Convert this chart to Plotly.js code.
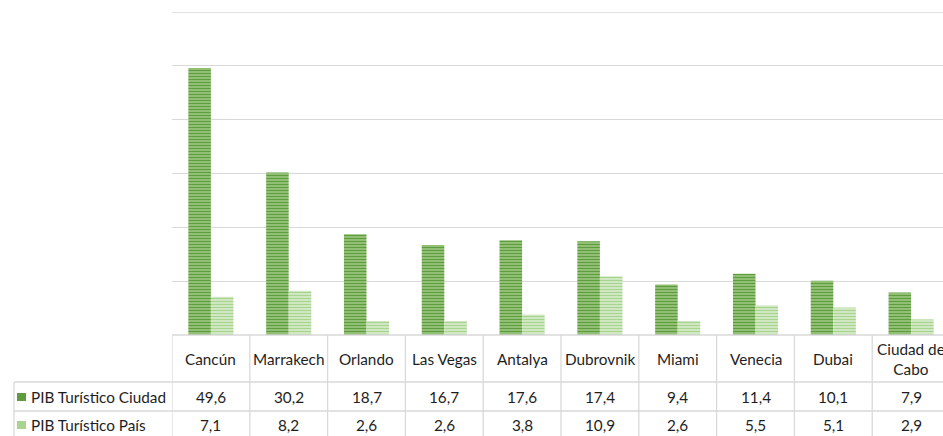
<!DOCTYPE html>
<html><head><meta charset="utf-8">
<script src="https://cdn.plot.ly/plotly-3.0.1.min.js"></script>
<style>html,body{margin:0;padding:0;background:#fff}#chart{width:943px;height:436px}</style>
</head><body><div id="chart"></div>
<script>
const categories = ['Cancún','Marrakech','Orlando','Las Vegas','Antalya','Dubrovnik','Miami','Venecia','Dubai','Ciudad de Cabo'];
const seriesNames = ['PIB Turístico Ciudad','PIB Turístico País'];
const ciudad = [49.6,30.2,18.7,16.7,17.6,17.4,9.4,11.4,10.1,7.9];
const pais = [7.1,8.2,2.6,2.6,3.8,10.9,2.6,5.5,5.1,2.9];

const W = 943, H = 436, L = 172, T = 12, B = 101;
const plotW = W - L, plotH = H - T - B;
const colW = 77.8;
const xMax = -0.5 + plotW / colW;
const py = px => (H - B - px) / plotH;   // pixel -> paper y
const pxx = px => (px - L) / plotW;      // pixel -> paper x
const fmt = v => v.toFixed(1).replace('.', ',');
const FONT = 'Lato, "Open Sans", sans-serif';
const FS = 15.3;
const TXT = '#1e1e1e';
const grid = '#d9d9d9';

const traces = [
  {type:'bar', x:categories, y:ciudad, name:seriesNames[0],
   marker:{color:'#a9d18e', line:{width:0},
     pattern:{shape:'-', fgcolor:'#5e9c3f', bgcolor:'#a9d18e', size:3, solidity:0.55}}},
  {type:'bar', x:categories, y:pais, name:seriesNames[1],
   marker:{color:'#d6ebc9', line:{width:0},
     pattern:{shape:'-', fgcolor:'#a8d490', bgcolor:'#dcefd1', size:3, solidity:0.5}}}
];

const shapes = [], annotations = [];
const line = (x0,y0,x1,y1) => shapes.push({type:'line', xref:'paper', yref:'paper', x0, y0, x1, y1, line:{color:grid, width:1.3}});
// top gridline (60)
shapes.push({type:'line', xref:'paper', yref:'y', x0:0, x1:1, y0:60, y1:60, line:{color:grid, width:1.3}});
// table top
line(0, 0, 1, 0);
// row lines
line(pxx(14), py(382), 1, py(382));
line(pxx(14), py(411), 1, py(411));
// column boundaries
categories.forEach((c,i) => {
  shapes.push({type:'line', xref:'x', yref:'paper', x0:i-0.5, x1:i-0.5, y0:0, y1:py(436), line:{color:grid, width:1.3}});
});
line(pxx(14), py(382), pxx(14), py(436));

categories.forEach((c,i) => {
  annotations.push({xref:'x', yref:'paper', x:i, y:py(359), text:c.replace('Ciudad de ', 'Ciudad de<br>'),
    showarrow:false, font:{family:FONT, size:FS, color:TXT}, xanchor:'center', yanchor:'middle'});
  annotations.push({xref:'x', yref:'paper', x:i, y:py(397), text:fmt(ciudad[i]),
    showarrow:false, font:{family:FONT, size:FS, color:TXT}, xanchor:'center', yanchor:'middle'});
  annotations.push({xref:'x', yref:'paper', x:i, y:py(425), text:fmt(pais[i]),
    showarrow:false, font:{family:FONT, size:FS, color:TXT}, xanchor:'center', yanchor:'middle'});
});
// legend keys in table
const keyColors = ['#5e9c3f','#a8d490'];
[397, 425].forEach((yc, k) => {
  shapes.push({type:'rect', xref:'paper', yref:'paper', x0:pxx(17), x1:pxx(26), y0:py(yc+4), y1:py(yc-4),
    fillcolor:keyColors[k], line:{width:0}});
  annotations.push({xref:'paper', yref:'paper', x:pxx(29), y:py(yc), text:seriesNames[k],
    showarrow:false, font:{family:FONT, size:FS, color:TXT}, xanchor:'left', yanchor:'middle'});
});

const layout = {
  width:W, height:H, margin:{l:L, r:0, t:T, b:B},
  paper_bgcolor:'#fff', plot_bgcolor:'#fff',
  showlegend:false, barmode:'group', bargap:0.42, bargroupgap:0,
  xaxis:{type:'category', range:[-0.5, xMax], showticklabels:false, showgrid:false, zeroline:false, showline:false, ticks:''},
  yaxis:{range:[0,60], dtick:10, showticklabels:false, showgrid:true, gridcolor:grid, gridwidth:1.3, zeroline:false, showline:false, ticks:''},
  shapes, annotations
};
Plotly.newPlot('chart', traces, layout, {staticPlot:true, displayModeBar:false});
</script></body></html>
